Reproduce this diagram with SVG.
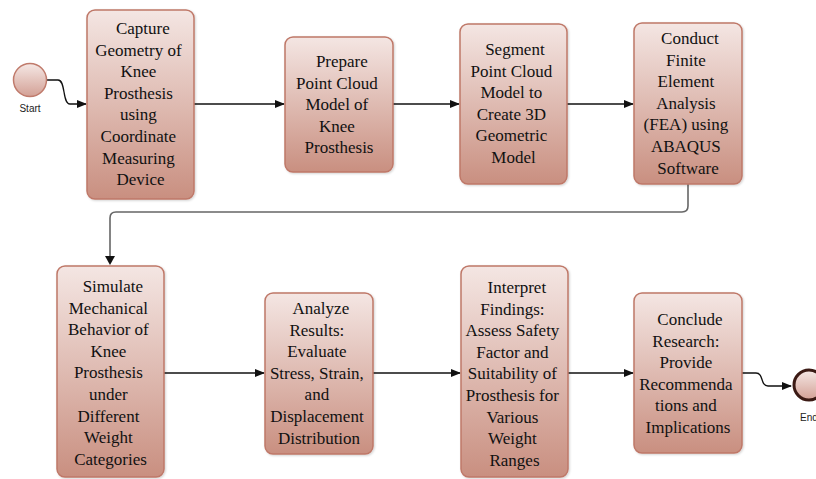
<svg xmlns="http://www.w3.org/2000/svg" width="816" height="479" viewBox="0 0 816 479">
<defs>
<linearGradient id="bg" x1="0" y1="0" x2="0" y2="1">
<stop offset="0" stop-color="#f4e6e3"/>
<stop offset="1" stop-color="#c98f80"/>
</linearGradient>
<linearGradient id="cg" x1="0" y1="0" x2="0" y2="1">
<stop offset="0" stop-color="#f5e8e5"/>
<stop offset="1" stop-color="#d3a095"/>
</linearGradient>
<marker id="ah" markerWidth="10" markerHeight="8" refX="9" refY="4" orient="auto" markerUnits="userSpaceOnUse">
<path d="M0,0 L10,4 L0,8 Z" fill="#111"/>
</marker>
<filter id="sh" x="-10%" y="-10%" width="130%" height="130%">
<feDropShadow dx="1" dy="1" stdDeviation="1.2" flood-color="#000" flood-opacity="0.18"/>
</filter>
</defs>
<style>
.box{fill:url(#bg);stroke:#bf7868;stroke-width:1.5;filter:url(#sh)}
.t{font-family:"Liberation Serif","Times New Roman",serif;font-size:17px;fill:#111;text-anchor:middle}
.lbl{font-family:"Liberation Sans",Arial,sans-serif;font-size:10px;fill:#222;text-anchor:middle}
.c{fill:none;stroke:#111;stroke-width:1.3}
.cg{fill:none;stroke:#666;stroke-width:1.6}
</style>

<g id="connectors">
<path class="c" d="M47,80 H58 C66,80 62,104 70,104 H86" marker-end="url(#ah)"/>
<path class="c" d="M194,104 H284" marker-end="url(#ah)"/>
<path class="c" d="M393,104 H459" marker-end="url(#ah)"/>
<path class="c" d="M567,104 H633" marker-end="url(#ah)"/>
<path class="cg" d="M688,184 V206 Q688,212 682,212 H116 Q110,212 110,218 V256"/>
<path d="M105,256 L110,265 L115,256 Z" fill="#111"/>
<path class="c" d="M164,373 H264" marker-end="url(#ah)"/>
<path class="c" d="M373,373 H460" marker-end="url(#ah)"/>
<path class="c" d="M568,373 H633" marker-end="url(#ah)"/>
<path class="c" d="M742,373 H756 C764,373 760,386 768,386 H791" marker-end="url(#ah)"/>
</g>

<g id="start">
<circle cx="30" cy="80" r="16.5" fill="url(#cg)" stroke="#c07b6c" stroke-width="1.5"/>
<text class="lbl" x="30" y="112">Start</text>
</g>

<g id="n1">
<rect class="box" x="87" y="10" width="107" height="189" rx="8"/>
<text class="t" y="34">
<tspan x="145">Capture</tspan>
<tspan x="140.5" dy="21.6">Geometry of</tspan>
<tspan x="140.5" dy="21.6">Knee</tspan>
<tspan x="140.5" dy="21.6">Prosthesis</tspan>
<tspan x="140.5" dy="21.6">using</tspan>
<tspan x="140.5" dy="21.6">Coordinate</tspan>
<tspan x="140.5" dy="21.6">Measuring</tspan>
<tspan x="140.5" dy="21.6">Device</tspan>
</text>
</g>

<g id="n2">
<rect class="box" x="285" y="37" width="108" height="135" rx="8"/>
<text class="t" y="67">
<tspan x="344">Prepare</tspan>
<tspan x="339" dy="21.6">Point Cloud</tspan>
<tspan x="339" dy="21.6">Model of</tspan>
<tspan x="339" dy="21.6">Knee</tspan>
<tspan x="339" dy="21.6">Prosthesis</tspan>
</text>
</g>

<g id="n3">
<rect class="box" x="460" y="24" width="107" height="160" rx="8"/>
<text class="t" y="55">
<tspan x="517">Segment</tspan>
<tspan x="513.5" dy="21.6">Point Cloud</tspan>
<tspan x="513.5" dy="21.6">Model to</tspan>
<tspan x="513.5" dy="21.6">Create 3D</tspan>
<tspan x="513.5" dy="21.6">Geometric</tspan>
<tspan x="513.5" dy="21.6">Model</tspan>
</text>
</g>

<g id="n4">
<rect class="box" x="634" y="23" width="108" height="161" rx="8"/>
<text class="t" y="44">
<tspan x="692">Conduct</tspan>
<tspan x="688" dy="21.6">Finite</tspan>
<tspan x="688" dy="21.6">Element</tspan>
<tspan x="688" dy="21.6">Analysis</tspan>
<tspan x="688" dy="21.6">(FEA) using</tspan>
<tspan x="688" dy="21.6">ABAQUS</tspan>
<tspan x="688" dy="21.6">Software</tspan>
</text>
</g>

<g id="n5">
<rect class="box" x="57" y="266" width="107" height="211" rx="8"/>
<text class="t" y="292">
<tspan x="115">Simulate</tspan>
<tspan x="110.5" dy="21.6">Mechanical</tspan>
<tspan x="110.5" dy="21.6">Behavior of</tspan>
<tspan x="110.5" dy="21.6">Knee</tspan>
<tspan x="110.5" dy="21.6">Prosthesis</tspan>
<tspan x="110.5" dy="21.6">under</tspan>
<tspan x="110.5" dy="21.6">Different</tspan>
<tspan x="110.5" dy="21.6">Weight</tspan>
<tspan x="110.5" dy="21.6">Categories</tspan>
</text>
</g>

<g id="n6">
<rect class="box" x="265" y="293" width="108" height="161" rx="8"/>
<text class="t" y="314">
<tspan x="323">Analyze</tspan>
<tspan x="319" dy="21.6">Results:</tspan>
<tspan x="319" dy="21.6">Evaluate</tspan>
<tspan x="319" dy="21.6">Stress, Strain,</tspan>
<tspan x="319" dy="21.6">and</tspan>
<tspan x="319" dy="21.6">Displacement</tspan>
<tspan x="319" dy="21.6">Distribution</tspan>
</text>
</g>

<g id="n7">
<rect class="box" x="461" y="266" width="107" height="211" rx="8"/>
<text class="t" y="293">
<tspan x="519">Interpret</tspan>
<tspan x="514.5" dy="21.6">Findings:</tspan>
<tspan x="514.5" dy="21.6">Assess Safety</tspan>
<tspan x="514.5" dy="21.6">Factor and</tspan>
<tspan x="514.5" dy="21.6">Suitability of</tspan>
<tspan x="514.5" dy="21.6">Prosthesis for</tspan>
<tspan x="514.5" dy="21.6">Various</tspan>
<tspan x="514.5" dy="21.6">Weight</tspan>
<tspan x="514.5" dy="21.6">Ranges</tspan>
</text>
</g>

<g id="n8">
<rect class="box" x="634" y="293" width="108" height="160" rx="8"/>
<text class="t" y="325">
<tspan x="692">Conclude</tspan>
<tspan x="688" dy="21.6">Research:</tspan>
<tspan x="688" dy="21.6">Provide</tspan>
<tspan x="688" dy="21.6">Recommenda</tspan>
<tspan x="688" dy="21.6">tions and</tspan>
<tspan x="688" dy="21.6">Implications</tspan>
</text>
</g>

<g id="end">
<circle cx="809" cy="385" r="15" fill="url(#cg)" stroke="#3b1a14" stroke-width="3"/>
<text class="lbl" x="809" y="421">End</text>
</g>
</svg>
